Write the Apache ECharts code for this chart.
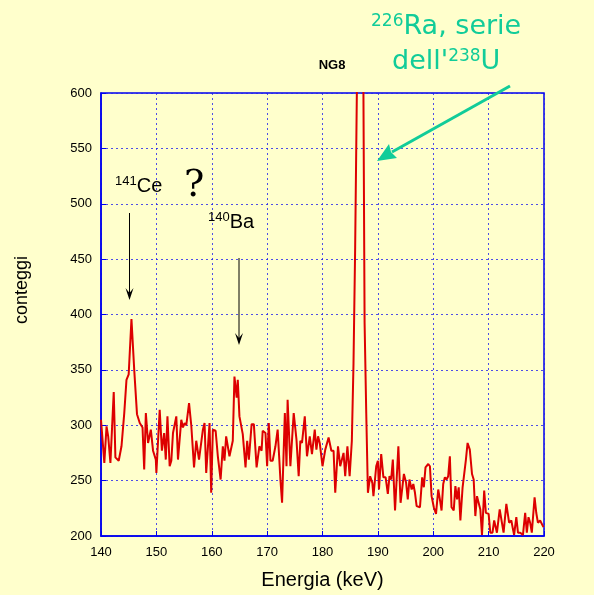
<!DOCTYPE html>
<html>
<head>
<meta charset="utf-8">
<script src="https://cdn.jsdelivr.net/npm/echarts@6/dist/echarts.min.js"></script>
<style>
  html, body { margin: 0; padding: 0; background: #FFFFCC; }
  #chart { width: 594px; height: 595px; }
</style>
</head>
<body>
<div id="chart"></div>
<script>
// Gamma spectrum of sample NG8: energy (keV) and counts per channel
const energy = [
  140.0, 140.6, 141.0, 141.3, 141.7, 142.3, 142.6, 143.2, 143.7, 144.2,
  144.6, 145.0, 145.5, 146.0, 146.5, 147.0, 147.5, 147.8, 148.1, 148.5,
  149.0, 149.4, 149.9, 150.0, 150.6, 151.0, 151.4, 151.7, 152.0, 152.4,
  152.7, 153.0, 153.3, 153.6, 153.9, 154.5, 154.8, 155.1, 155.4, 155.9,
  156.3, 156.8, 157.2, 157.7, 158.0, 158.4, 158.7, 159.0, 159.6, 159.9,
  160.2, 160.7, 161.1, 161.6, 162.0, 162.3, 162.6, 162.9, 163.2, 163.8,
  164.1, 164.5, 164.7, 165.0, 165.6, 166.1, 166.4, 166.7, 167.2, 167.6,
  168.1, 168.6, 169.0, 169.2, 169.7, 170.0, 170.3, 170.6, 171.0, 171.5,
  171.9, 172.4, 172.7, 173.2, 173.5, 173.7, 174.2, 174.8, 175.3, 175.7,
  176.0, 176.3, 176.8, 177.2, 177.7, 178.1, 178.6, 178.9, 179.2, 179.5,
  180.0, 180.5, 181.1, 181.6, 182.0, 182.3, 182.8, 183.2, 183.5, 183.8,
  184.1, 184.5, 184.9, 185.3, 185.6, 185.9, 186.4, 186.8, 187.1, 187.6,
  187.9, 188.2, 188.6, 189.0, 189.2, 189.7, 190.0, 190.2, 190.6, 191.0,
  191.4, 191.8, 192.1, 192.4, 192.7, 193.1, 193.7, 194.1, 194.7, 195.1,
  195.4, 195.7, 196.1, 196.4, 196.7, 197.0, 197.6, 198.0, 198.3, 198.6,
  199.1, 199.4, 199.7, 200.1, 200.5, 200.9, 201.2, 201.5, 201.8, 202.1,
  202.4, 202.7, 203.0, 203.3, 203.7, 204.0, 204.3, 204.6, 204.9, 205.3,
  205.6, 205.9, 206.2, 206.6, 207.0, 207.3, 207.6, 207.9, 208.2, 208.5,
  208.8, 209.2, 209.5, 210.0, 210.3, 210.7, 211.0, 211.5, 212.0, 212.4,
  212.7, 213.2, 213.5, 213.7, 214.1, 214.4, 214.6, 215.0, 215.3, 215.7,
  216.2, 216.6, 216.9, 217.2, 217.5, 217.8, 218.3, 218.6, 218.9, 219.3,
  219.6, 219.9
];
const counts = [
  305, 266, 299, 290, 266, 330, 271, 268, 281, 311,
  341, 346, 396, 350, 310, 302, 298, 260, 311, 284,
  296, 277, 269, 257, 314, 277, 293, 269, 308, 263,
  268, 293, 292, 308, 269, 305, 298, 302, 300, 320,
  300, 262, 286, 269, 268, 296, 302, 257, 302, 239,
  296, 295, 272, 251, 281, 268, 290, 289, 272, 286,
  344, 325, 341, 308, 292, 262, 286, 269, 301, 301,
  262, 281, 277, 295, 293, 263, 302, 268, 268, 281,
  296, 251, 230, 311, 263, 323, 263, 311, 287, 254,
  286, 284, 308, 272, 290, 274, 296, 278, 290, 284,
  263, 278, 289, 277, 277, 239, 281, 263, 263, 275,
  254, 281, 254, 286, 356, 461, 690, 3000, 890, 393,
  311, 239, 254, 248, 236, 263, 268, 242, 274, 253,
  253, 238, 254, 251, 269, 223, 281, 230, 256, 248,
  233, 251, 242, 247, 239, 227, 226, 253, 244, 262,
  265, 263, 236, 226, 220, 242, 233, 223, 247, 253,
  251, 254, 272, 226, 223, 245, 233, 244, 214, 244,
  244, 269, 284, 278, 256, 251, 218, 236, 236, 224,
  201, 241, 221, 220, 203, 203, 214, 203, 224, 212,
  203, 229, 230, 212, 214, 206, 201, 217, 203, 203,
  201, 221, 203, 217, 212, 203, 235, 221, 212, 214,
  213, 208
];
const xTicks = { min: 140, max: 220, step: 10 };
const yTicks = { min: 200, max: 600, step: 50 };

const spectrum = energy.map((e, i) => [e, counts[i]]);

const chart = echarts.init(document.getElementById('chart'), null, { renderer: 'canvas' });

const SANS = 'Liberation Sans, Arial, sans-serif';
const GREEN = '#11CC99';
const axisFont = { fontFamily: SANS, fontSize: 13, color: '#000' };
const gridLine = { show: true, lineStyle: { color: '#2222EE', type: [2, 3], width: 1, opacity: 0.8 } };

// black annotation arrow: shaft plus a narrow head
function arrow(x, y1, y2) {
  return [
    { type: 'line', shape: { x1: x, y1: y1, x2: x, y2: y2 - 4 }, style: { stroke: '#000', lineWidth: 1 }, z: 10 },
    { type: 'polygon', shape: { points: [[x - 4, y2 - 12], [x, y2 - 7], [x + 4, y2 - 12], [x, y2]] }, style: { fill: '#000' }, z: 10 }
  ];
}

// isotope label with a superscript mass number
function isotope(left, top, mass, symbol) {
  return {
    type: 'text', left: left, top: top, z: 10,
    style: {
      text: '{s|' + mass + '}{n|' + symbol + '}',
      rich: {
        s: { fontFamily: SANS, fontSize: 13, verticalAlign: 'top', fill: '#000', padding: [0, 0, 9, 0] },
        n: { fontFamily: SANS, fontSize: 20, fill: '#000' }
      }
    }
  };
}

const greenRich = {
  s: { fontFamily: 'DejaVu Sans, sans-serif', fontSize: 17, verticalAlign: 'top', fill: GREEN, padding: [0, 0, 11, 0] },
  n: { fontFamily: 'DejaVu Sans, sans-serif', fontSize: 27, fill: GREEN }
};

chart.setOption({
  backgroundColor: '#FFFFCC',
  animation: false,
  title: {
    text: 'NG8',
    left: 327, top: 54, textAlign: 'center',
    textStyle: { fontFamily: SANS, fontSize: 13, fontWeight: 'bold', color: '#000' }
  },
  grid: {
    left: 101, right: 50, top: 93, bottom: 59,
    show: true, borderColor: '#0000EE', borderWidth: 1.5, backgroundColor: 'transparent'
  },
  xAxis: {
    type: 'value', min: xTicks.min, max: xTicks.max, interval: xTicks.step,
    name: 'Energia (keV)', nameLocation: 'middle', nameGap: 34,
    nameTextStyle: { fontFamily: SANS, fontSize: 20, color: '#000' },
    axisLine: { show: true, lineStyle: { color: '#0000EE', width: 1.5 } },
    axisTick: { show: true, inside: true, length: 5, lineStyle: { color: '#0000EE' } },
    axisLabel: Object.assign({ margin: 10 }, axisFont),
    splitLine: gridLine
  },
  yAxis: {
    type: 'value', min: yTicks.min, max: yTicks.max, interval: yTicks.step,
    axisLine: { show: true, lineStyle: { color: '#0000EE', width: 1.5 } },
    axisTick: { show: true, inside: true, length: 5, lineStyle: { color: '#0000EE' } },
    axisLabel: Object.assign({ margin: 9 }, axisFont),
    splitLine: gridLine
  },
  series: [{
    type: 'line',
    data: spectrum,
    showSymbol: false,
    clip: true,
    lineStyle: { color: '#DD0000', width: 2 },
    z: 5
  }],
  graphic: [
    {
      type: 'text', x: 22, y: 290, rotation: Math.PI / 2, z: 10,
      style: { text: 'conteggi', fontFamily: SANS, fontSize: 18, fill: '#000', align: 'center', verticalMiddle: 'middle', textVerticalAlign: 'middle' }
    },
    isotope(115, 175, '141', 'Ce'),
    {
      type: 'text', left: 184, top: 167, z: 10,
      style: { text: '?', fontFamily: 'DejaVu Serif, serif', fontSize: 38, fill: '#000' }
    },
    isotope(208, 211, '140', 'Ba'),
    ...arrow(129.5, 213, 300),
    ...arrow(239, 258, 345),
    {
      type: 'text', left: 371, top: 13, z: 10,
      style: { text: '{s|226}{n|Ra, serie}', rich: greenRich }
    },
    {
      type: 'text', left: 392, top: 48, z: 10,
      style: { text: "{n|dell'}{s|238}{n|U}", rich: greenRich }
    },
    {
      type: 'line', z: 10,
      shape: { x1: 510, y1: 86, x2: 392, y2: 152 },
      style: { stroke: GREEN, lineWidth: 3 }
    },
    {
      type: 'polygon', z: 10,
      shape: { points: [[377, 161], [389, 144], [391, 152], [397, 158]] },
      style: { fill: GREEN }
    }
  ]
});
</script>
</body>
</html>
